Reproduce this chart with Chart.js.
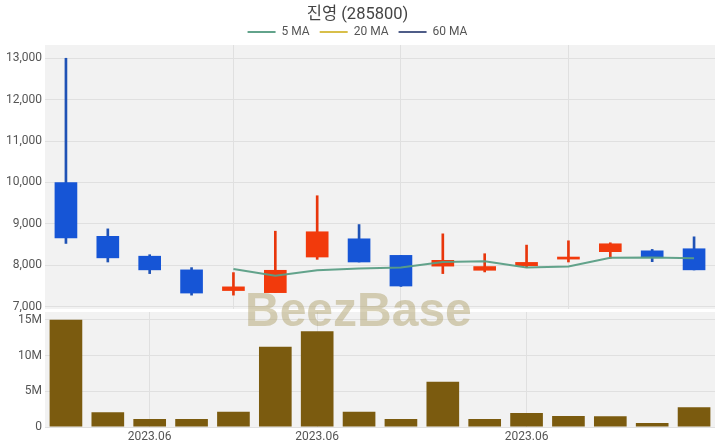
<!DOCTYPE html>
<html><head><meta charset="utf-8">
<script src="https://cdn.jsdelivr.net/npm/chart.js@4.4.0/dist/chart.umd.min.js"></script>
<style>
html,body{margin:0;padding:0;background:#fff;width:720px;height:448px;overflow:hidden;}
#wrap{position:relative;width:720px;height:448px;}
#c1{position:absolute;left:0;top:0;}
#c2{position:absolute;left:0;top:312px;}
#wm{position:absolute;left:245px;top:286px;font-family:'Liberation Sans',Arial,sans-serif;font-weight:bold;font-size:48px;line-height:48px;color:rgba(178,164,112,0.5);white-space:nowrap;pointer-events:none;}
</style></head>
<body><div id="wrap">
<canvas id="c1" width="720" height="312"></canvas>
<canvas id="c2" width="720" height="136"></canvas>
<div id="wm">BeezBase</div>
</div>
<script>
const categories = ['', '', '2023.06', '', '', '', '2023.06', '', '', '', '', '2023.06', '', '', '', ''];
const openP  = [10000, 8700, 8220, 7890, 7390, 7340, 8200, 8640, 8240, 7980, 7880, 7990, 8150, 8330, 8350, 8400];
const closeP = [8660, 8180, 7890, 7330, 7480, 7880, 8810, 8080, 7500, 8120, 7970, 8070, 8200, 8520, 8190, 7890];
const highP  = [13000, 8880, 8256, 7944, 7824, 8824, 9680, 8984, 8240, 8760, 8280, 8488, 8592, 8544, 8384, 8688];
const lowP   = [8528, 8080, 7800, 7280, 7280, 7340, 8144, 8080, 7490, 7800, 7840, 7944, 8080, 8168, 8088, 7888];
const ma5    = [null, null, null, null, 7910, 7750, 7880, 7920, 7950, 8080, 8100, 7950, 7970, 8180, 8190, 8170];
const ma20   = [null, null, null, null, null, null, null, null, null, null, null, null, null, null, null, null];
const ma60   = [null, null, null, null, null, null, null, null, null, null, null, null, null, null, null, null];
const volume = [15050000, 2060000, 1120000, 1120000, 2150000, 11260000, 13410000, 2150000, 1120000, 6360000, 1120000, 1960000, 1540000, 1500000, 560000, 2760000];
const priceTicks = [7000, 8000, 9000, 10000, 11000, 12000, 13000];
const volTicks = [0, 5000000, 10000000, 15000000];
const priceGridIdx = [4, 8, 12];
const volGridIdx = [2, 6, 11];

const UP = '#f23a0c', DOWN = '#1655d6', UPW = '#e8360c', DOWNW = '#1f52b5';
const FONT = "Roboto, 'Noto Sans CJK KR', sans-serif";
const BG = '#f2f2f2', GRID = '#e0e0e0', TXT = '#555';

const bgPlugin = {
  id: 'bg',
  beforeDraw(chart) {
    const {ctx, chartArea: a} = chart;
    ctx.save(); ctx.fillStyle = BG;
    ctx.fillRect(a.left, a.top, a.right - a.left, a.bottom - a.top);
    ctx.restore();
  }
};
const isUp = i => closeP[i] >= openP[i];
const yFit = s => { s.width = 45; s.paddingTop = 0; s.paddingBottom = 0; };

const c1 = new Chart(document.getElementById('c1'), {
  type: 'bar',
  data: {
    labels: categories,
    datasets: [
      {type: 'line', label: '5 MA', data: ma5, borderColor: 'rgba(90,158,133,0.95)', backgroundColor: 'rgba(90,158,133,0.95)', borderWidth: 2, pointRadius: 0, tension: 0, order: 0},
      {type: 'line', label: '20 MA', data: ma20, borderColor: '#d8bf4a', backgroundColor: '#d8bf4a', borderWidth: 2, pointRadius: 0, order: 0},
      {type: 'line', label: '60 MA', data: ma60, borderColor: '#4f5d88', backgroundColor: '#4f5d88', borderWidth: 2, pointRadius: 0, order: 0},
      {label: 'body', data: categories.map((_, i) => [openP[i], closeP[i]]), backgroundColor: categories.map((_, i) => isUp(i) ? UP : DOWN), barThickness: 22, grouped: false, order: 1, borderSkipped: false},
      {label: 'wick', data: categories.map((_, i) => [lowP[i], highP[i]]), backgroundColor: categories.map((_, i) => isUp(i) ? UPW : DOWNW), barThickness: 2, grouped: false, order: 2, borderSkipped: false}
    ]
  },
  options: {
    responsive: false, animation: false, devicePixelRatio: 1,
    layout: {padding: {left: 0, right: 5, top: 0, bottom: 3}},
    plugins: {
      title: {display: true, text: '진영 (285800)', color: '#444', font: {family: FONT, size: 16.5, weight: 'normal'}, padding: {top: 5, bottom: -8.8}},
      legend: {display: true, position: 'top', maxHeight: 29, labels: {filter: it => it.text.includes('MA'), usePointStyle: true, pointStyle: 'line', pointStyleWidth: 28, color: TXT, font: {family: FONT, size: 12}, padding: 10}},
      tooltip: {enabled: false}
    },
    scales: {
      x: {offset: true, afterFit: s => { s.height = 0; }, grid: {offset: false, drawTicks: false, color: c => priceGridIdx.includes(c.index) ? GRID : 'rgba(0,0,0,0)'}, border: {display: false}, ticks: {display: false}},
      y: {min: 6945, max: 13320, afterFit: yFit,
          afterBuildTicks: s => { s.ticks = priceTicks.map(v => ({value: v})); },
          grid: {color: GRID, drawTicks: false}, border: {display: false},
          ticks: {color: TXT, font: {family: FONT, size: 12}, padding: 3, callback: v => v.toLocaleString('en-US')}}
    }
  },
  plugins: [bgPlugin]
});

const c2 = new Chart(document.getElementById('c2'), {
  type: 'bar',
  data: {
    labels: categories,
    datasets: [{label: 'Volume', data: volume, backgroundColor: '#7b5b0f', barPercentage: 0.78, categoryPercentage: 1.0}]
  },
  options: {
    responsive: false, animation: false, devicePixelRatio: 1,
    layout: {padding: {left: 0, right: 5, top: 0, bottom: 0}},
    plugins: {legend: {display: false}, tooltip: {enabled: false}},
    scales: {
      x: {offset: true, afterFit: s => { s.height = 21; }, grid: {offset: false, drawTicks: false, color: c => volGridIdx.includes(c.index) ? GRID : 'rgba(0,0,0,0)'}, border: {display: false},
          ticks: {autoSkip: false, maxRotation: 0, color: TXT, font: {family: FONT, size: 12}, padding: 3, callback: (v, i) => categories[i]}},
      y: {min: 0, max: 16120000, afterFit: yFit,
          afterBuildTicks: s => { s.ticks = volTicks.map(v => ({value: v})); },
          grid: {color: GRID, drawTicks: false}, border: {display: false},
          ticks: {color: TXT, font: {family: FONT, size: 12}, padding: 3, callback: v => v === 0 ? '0' : (v / 1000000) + 'M'}}
    }
  },
  plugins: [bgPlugin]
});
</script>
</body></html>
